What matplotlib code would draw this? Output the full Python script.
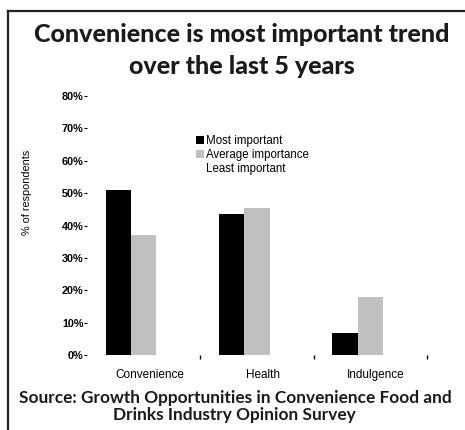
import matplotlib
matplotlib.use('Agg')
import matplotlib.pyplot as plt
import numpy as np
from matplotlib.lines import Line2D

# Data
categories = ['Convenience', 'Health', 'Indulgence']
most_important = [51, 43.7, 6.7]
average_importance = [37, 45.5, 18]
least_important = [12, 10.8, 75.3]
series_names = ['Most important', 'Average importance', 'Least important']
yticks = [0, 10, 20, 30, 40, 50, 60, 70, 80]

W, H = 465, 430
fig = plt.figure(figsize=(W / 100, H / 100), dpi=100)
ax = fig.add_axes([87 / W, 1 - 355 / H, 340 / W, 259 / H])

x = np.arange(len(categories))
bw = 0.224
colors = ['black', '#c0c0c0', 'white']
for i, (vals, name, c) in enumerate(zip([most_important, average_importance, least_important],
                                         series_names, colors)):
    ax.bar(x + (i - 1) * bw, vals, width=bw, color=c, label=name, zorder=2 - i * 0.5)

ax.set_xlim(-0.5, 2.5)
ax.set_ylim(0, 80)
for s in ax.spines.values():
    s.set_visible(False)

ax.set_yticks(yticks)
ax.set_yticklabels([f'{t}%' for t in yticks], fontsize=7.8, fontweight='bold', family='Liberation Sans')
ax.tick_params(axis='y', length=2, width=0.8, pad=0.5)

# category boundary ticks
ax.set_xticks([0.5, 1.5, 2.5])
ax.set_xticklabels([])
ax.tick_params(axis='x', length=3, width=1, direction='out')
for xi, cat in zip(x, categories):
    ax.text(xi + 0.05, -4.2, cat, ha='center', va='top', fontsize=8.5, family='Liberation Sans')

leg = ax.legend(loc='upper left', bbox_to_anchor=(190 / W, 1 - 129 / H), bbox_transform=fig.transFigure,
                frameon=False, handlelength=0.7, handleheight=0.75, handletextpad=0.15,
                labelspacing=0.2, borderpad=0, prop={'family': 'Liberation Sans', 'size': 8.3})

fig.text(27 / W, 1 - 192 / H, '% of respondents', rotation=90, ha='center', va='center',
         fontsize=7.8, family='Liberation Sans')

# title and source
title_kw = dict(ha='center', va='center', fontsize=18, fontweight='black', family='Lato', color='#1a1a1a')
fig.text(242 / W, 1 - 34 / H, 'Convenience is most important trend', **title_kw)
fig.text(242 / W, 1 - 66 / H, 'over the last 5 years', **title_kw)
src_kw = dict(ha='center', va='center', fontsize=12.4, fontweight='bold', family='Lato', color='#1a1a1a')
fig.text(235 / W, 1 - 398 / H, 'Source: Growth Opportunities in Convenience Food and', **src_kw)
fig.text(234 / W, 1 - 415 / H, 'Drinks Industry Opinion Survey', **src_kw)

# frame lines (top and left)
fig.add_artist(Line2D([8 / W, 1], [1 - 11 / H, 1 - 11 / H], transform=fig.transFigure,
                      color='#222222', lw=1.6))
fig.add_artist(Line2D([8 / W, 8 / W], [0, 1 - 11 / H], transform=fig.transFigure,
                      color='#222222', lw=1.6))

fig.savefig('out.png', dpi=100)
